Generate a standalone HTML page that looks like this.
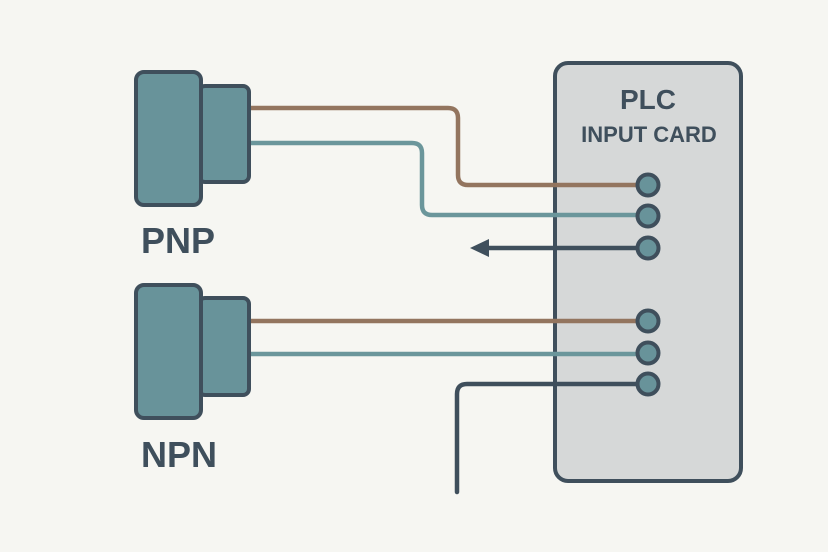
<!DOCTYPE html>
<html><head><style>html,body{margin:0;padding:0;background:#f6f6f2;}svg{display:block}</style></head>
<body>
<svg width="828" height="552" viewBox="0 0 828 552" xmlns="http://www.w3.org/2000/svg">
<rect width="828" height="552" fill="#f6f6f2"/>
<rect x="555" y="63" width="186" height="418" rx="13" fill="#d6d8d8" stroke="#3f4f5c" stroke-width="4"/>
<g fill="none" stroke-width="4.5">
<path d="M250 108 H448 Q458 108 458 118 V175 Q458 185 468 185 H648" stroke="#93755f"/>
<path d="M250 143 H412 Q422 143 422 153 V205 Q422 215 432 215 H648" stroke="#6b969b"/>
<path d="M648 248 H485" stroke="#3f4f5c"/>
<path d="M250 321 H648" stroke="#93755f"/>
<path d="M250 354 H648" stroke="#6b969b"/>
<path d="M648 384 H467 Q457 384 457 394 V492" stroke="#3f4f5c" stroke-linecap="round"/>
</g>
<polygon points="470,248 489,239 489,257" fill="#3f4f5c"/>
<g fill="#68939a" stroke="#3f4f5c" stroke-width="4">
<rect x="199" y="86" width="50" height="96" rx="6"/>
<rect x="136" y="72" width="65" height="133" rx="8"/>
<rect x="199" y="298" width="50" height="97" rx="6"/>
<rect x="136" y="285" width="65" height="133" rx="8"/>
<circle cx="648" cy="185" r="10.5"/><circle cx="648" cy="216" r="10.5"/><circle cx="648" cy="248" r="10.5"/>
<circle cx="648" cy="321" r="10.5"/><circle cx="648" cy="353" r="10.5"/><circle cx="648" cy="384" r="10.5"/>
</g>
<g font-family="Liberation Sans, sans-serif" font-weight="bold" fill="#3f4f5c">
<text x="141" y="253" font-size="36">PNP</text>
<text x="141" y="467" font-size="36">NPN</text>
<text x="648" y="109" font-size="28" text-anchor="middle">PLC</text>
<text x="649" y="142" font-size="22" text-anchor="middle">INPUT CARD</text>
</g>
</svg>
</body></html>
